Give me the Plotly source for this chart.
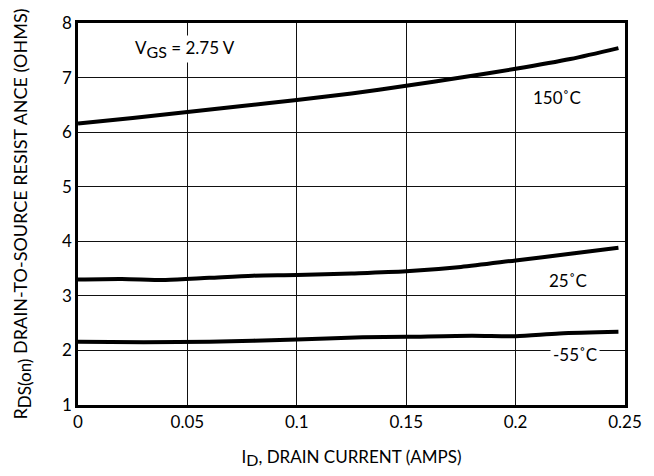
import plotly.graph_objects as go

# Drain current (A) sample points along each curve
id_150 = [0.0, 0.025, 0.05, 0.075, 0.1, 0.125, 0.15, 0.175, 0.2, 0.225, 0.247]
rds_150 = [6.16, 6.26, 6.37, 6.48, 6.59, 6.71, 6.85, 7.0, 7.16, 7.34, 7.54]

id_25 = [0.0, 0.02, 0.04, 0.06, 0.08, 0.1, 0.125, 0.15, 0.175, 0.2, 0.225, 0.247]
rds_25 = [3.30, 3.31, 3.29, 3.33, 3.37, 3.38, 3.41, 3.45, 3.53, 3.65, 3.77, 3.88]

id_m55 = [0.0, 0.03, 0.06, 0.1, 0.13, 0.15, 0.18, 0.2, 0.22, 0.247]
rds_m55 = [2.16, 2.15, 2.16, 2.20, 2.24, 2.25, 2.27, 2.26, 2.31, 2.34]

x_ticks = [0, 0.05, 0.1, 0.15, 0.2, 0.25]
x_tick_text = ["0", "0.05", "0.1", "0.15", "0.2", "0.25"]
y_ticks = [1, 2, 3, 4, 5, 6, 7, 8]

FONT = "Lato"
FS = 17


def sub(s, size=16):
    # subscript kept close to full size
    return f"<sub><span style='font-size:{size}px'>{s}</span></sub>"


fig = go.Figure()
for xs, ys in [(id_150, rds_150), (id_25, rds_25), (id_m55, rds_m55)]:
    fig.add_trace(go.Scatter(
        x=xs, y=ys, mode="lines",
        line=dict(color="black", width=4, shape="spline", smoothing=0.8),
        showlegend=False, hoverinfo="skip",
    ))

fig.update_layout(
    width=654, height=476,
    margin=dict(l=78, r=28, t=22, b=70),
    paper_bgcolor="white", plot_bgcolor="white",
    font=dict(family=FONT, size=FS, color="black"),
    xaxis=dict(
        range=[0, 0.25], tickvals=x_ticks, ticktext=x_tick_text,
        showgrid=True, gridcolor="#111", gridwidth=1.2,
        showline=True, linecolor="black", linewidth=2.5, mirror=True,
        ticks="", ticklen=0, zeroline=False,
        title=dict(text="I" + sub("D") + ", DRAIN CURRENT (AMPS)", standoff=20,
                   font=dict(size=FS)),
    ),
    yaxis=dict(
        range=[1, 8], tickvals=y_ticks,
        showgrid=True, gridcolor="#111", gridwidth=1.2,
        showline=True, linecolor="black", linewidth=2.5, mirror=True,
        ticks="", ticklen=0, zeroline=False,
        title=dict(text="R" + sub("DS(on)", 17) + " DRAIN-TO-SOURCE RESIST ANCE (OHMS)",
                   standoff=30, font=dict(size=18)),
    ),
)

fig.add_annotation(x=0.025, y=7.53, xref="x", yref="y", xanchor="left",
                   text="V" + sub("GS") + " = 2.75 V", showarrow=False,
                   font=dict(size=FS), bgcolor="white")
fig.add_annotation(x=0.219, y=6.63, xref="x", yref="y",
                   text="150˚C", showarrow=False, font=dict(size=FS))
fig.add_annotation(x=0.224, y=3.28, xref="x", yref="y",
                   text="25˚C", showarrow=False, font=dict(size=FS))
fig.add_annotation(x=0.227, y=1.93, xref="x", yref="y",
                   text="-55˚C", showarrow=False, font=dict(size=FS),
                   bgcolor="white", borderpad=2)

fig.write_html("out.html")
